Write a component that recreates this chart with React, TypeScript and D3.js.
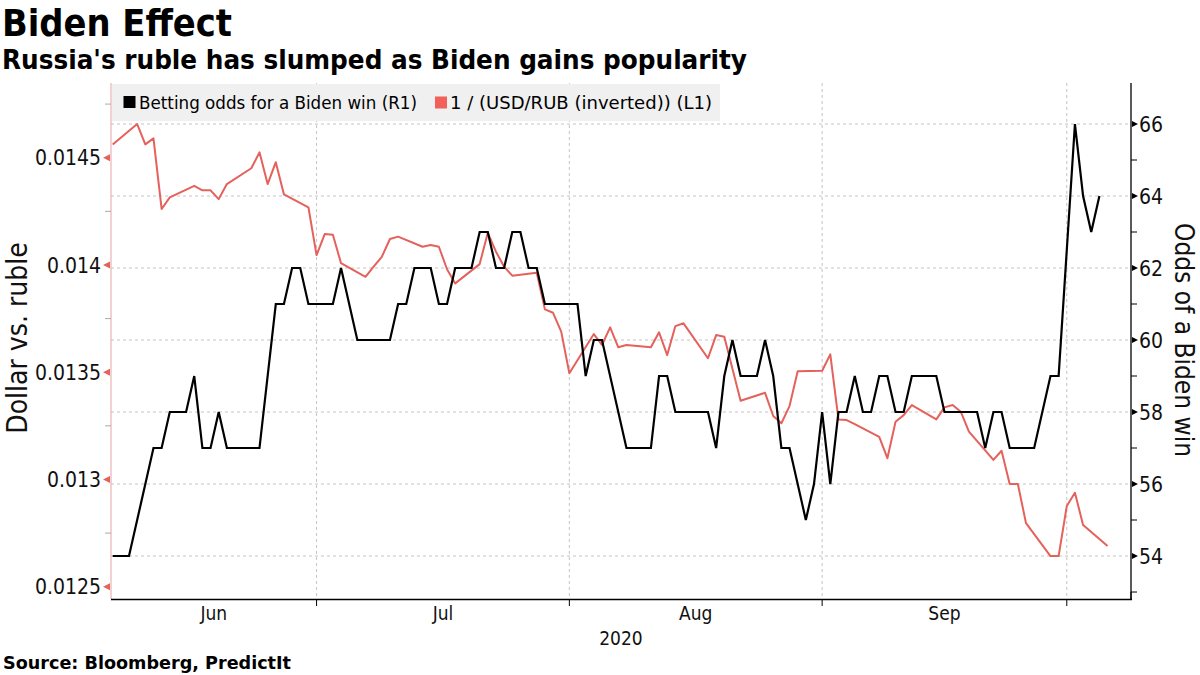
import React from "react";
import * as d3 from "d3";

// ---- Data ----
const bidenOdds: [string, number][] = [
  ["2020-06-05", 54], ["2020-06-07", 54], ["2020-06-10", 57], ["2020-06-11", 57],
  ["2020-06-12", 58], ["2020-06-14", 58], ["2020-06-15", 59], ["2020-06-16", 57],
  ["2020-06-17", 57], ["2020-06-18", 58], ["2020-06-19", 57], ["2020-06-23", 57],
  ["2020-06-25", 61], ["2020-06-26", 61], ["2020-06-27", 62], ["2020-06-28", 62],
  ["2020-06-29", 61], ["2020-07-02", 61], ["2020-07-03", 62], ["2020-07-05", 60],
  ["2020-07-09", 60], ["2020-07-10", 61], ["2020-07-11", 61], ["2020-07-12", 62],
  ["2020-07-14", 62], ["2020-07-15", 61], ["2020-07-16", 61], ["2020-07-17", 62],
  ["2020-07-19", 62], ["2020-07-20", 63], ["2020-07-21", 63], ["2020-07-22", 62],
  ["2020-07-23", 62], ["2020-07-24", 63], ["2020-07-25", 63], ["2020-07-26", 62],
  ["2020-07-27", 62], ["2020-07-28", 61], ["2020-08-01", 61], ["2020-08-02", 59],
  ["2020-08-03", 60], ["2020-08-04", 60], ["2020-08-07", 57], ["2020-08-10", 57],
  ["2020-08-11", 59], ["2020-08-12", 59], ["2020-08-13", 58], ["2020-08-17", 58],
  ["2020-08-18", 57], ["2020-08-19", 59], ["2020-08-20", 60], ["2020-08-21", 59],
  ["2020-08-23", 59], ["2020-08-24", 60], ["2020-08-25", 59], ["2020-08-26", 57],
  ["2020-08-27", 57], ["2020-08-29", 55], ["2020-08-30", 56], ["2020-08-31", 58],
  ["2020-09-01", 56], ["2020-09-02", 58], ["2020-09-03", 58], ["2020-09-04", 59],
  ["2020-09-05", 58], ["2020-09-06", 58], ["2020-09-07", 59], ["2020-09-08", 59],
  ["2020-09-09", 58], ["2020-09-10", 58], ["2020-09-11", 59], ["2020-09-14", 59],
  ["2020-09-15", 58], ["2020-09-19", 58], ["2020-09-20", 57], ["2020-09-21", 58],
  ["2020-09-22", 58], ["2020-09-23", 57], ["2020-09-26", 57], ["2020-09-28", 59],
  ["2020-09-29", 59], ["2020-09-30", 62.5], ["2020-10-01", 66], ["2020-10-02", 64],
  ["2020-10-03", 63], ["2020-10-04", 64],
];

const rubleInverted: [string, number][] = [
  ["2020-06-05", 0.014562], ["2020-06-08", 0.014657], ["2020-06-09", 0.014562],
  ["2020-06-10", 0.01459], ["2020-06-11", 0.014261], ["2020-06-12", 0.014315],
  ["2020-06-15", 0.014369], ["2020-06-16", 0.014348], ["2020-06-17", 0.014348],
  ["2020-06-18", 0.014307], ["2020-06-19", 0.014377], ["2020-06-22", 0.014451],
  ["2020-06-23", 0.014525], ["2020-06-24", 0.014377], ["2020-06-25", 0.014479],
  ["2020-06-26", 0.014329], ["2020-06-29", 0.014269], ["2020-06-30", 0.014046],
  ["2020-07-01", 0.014144], ["2020-07-02", 0.014141], ["2020-07-03", 0.014008],
  ["2020-07-06", 0.013945], ["2020-07-07", 0.013992], ["2020-07-08", 0.014038],
  ["2020-07-09", 0.014121], ["2020-07-10", 0.014132], ["2020-07-13", 0.014085],
  ["2020-07-14", 0.014093], ["2020-07-15", 0.014085], ["2020-07-16", 0.01398],
  ["2020-07-17", 0.013914], ["2020-07-20", 0.014004], ["2020-07-21", 0.01415],
  ["2020-07-22", 0.014062], ["2020-07-23", 0.013992], ["2020-07-24", 0.01395],
  ["2020-07-27", 0.013964], ["2020-07-28", 0.013793], ["2020-07-29", 0.013777],
  ["2020-07-30", 0.013689], ["2020-07-31", 0.013495], ["2020-08-03", 0.013678],
  ["2020-08-04", 0.013627], ["2020-08-05", 0.013709], ["2020-08-06", 0.013616],
  ["2020-08-07", 0.013627], ["2020-08-10", 0.013616], ["2020-08-11", 0.013686],
  ["2020-08-12", 0.01358], ["2020-08-13", 0.013715], ["2020-08-14", 0.013728],
  ["2020-08-17", 0.013565], ["2020-08-18", 0.013673], ["2020-08-19", 0.013665],
  ["2020-08-20", 0.013516], ["2020-08-21", 0.013367], ["2020-08-24", 0.013404],
  ["2020-08-25", 0.013296], ["2020-08-26", 0.013262], ["2020-08-27", 0.013342],
  ["2020-08-28", 0.013504], ["2020-08-31", 0.013507], ["2020-09-01", 0.013583],
  ["2020-09-02", 0.01328], ["2020-09-03", 0.013277], ["2020-09-04", 0.013258],
  ["2020-09-07", 0.013199], ["2020-09-08", 0.013099], ["2020-09-09", 0.013269],
  ["2020-09-10", 0.0133], ["2020-09-11", 0.013347], ["2020-09-14", 0.01328],
  ["2020-09-15", 0.013336], ["2020-09-16", 0.013347], ["2020-09-17", 0.013316],
  ["2020-09-18", 0.013223], ["2020-09-21", 0.013091], ["2020-09-22", 0.013134],
  ["2020-09-23", 0.012979], ["2020-09-24", 0.012979], ["2020-09-25", 0.012796],
  ["2020-09-28", 0.012643], ["2020-09-29", 0.012643], ["2020-09-30", 0.012876],
  ["2020-10-01", 0.012938], ["2020-10-02", 0.012788], ["2020-10-05", 0.01269],
];

const leftTicks = [0.0125, 0.013, 0.0135, 0.014, 0.0145];
const leftMinorTicks = [0.01275, 0.01325, 0.01375, 0.01425, 0.01475];
const rightTicks = [54, 56, 58, 60, 62, 64, 66];
const rightMinorTicks = [53, 55, 57, 59, 61, 63, 65];
const monthEnds = ["2020-06-30", "2020-07-31", "2020-08-31", "2020-09-30"];
const monthLabels = ["Jun", "Jul", "Aug", "Sep"];

const TITLE = "Biden Effect";
const SUBTITLE = "Russia's ruble has slumped as Biden gains popularity";
const SOURCE = "Source: Bloomberg, PredictIt";
const LEGEND = ["Betting odds for a Biden win (R1)", "1 / (USD/RUB (inverted)) (L1)"];

// ---- Layout ----
const W = 1200, H = 675;
const L = 111, R = 1131, T = 83, B = 599;
const FONT = "'DejaVu Sans Condensed', 'DejaVu Sans', sans-serif";
const RED = "#e4615c";
const RED_SQ = "#f2605a";

const parse = d3.timeParse("%Y-%m-%d");

export default function App() {
  const x = d3.scaleTime()
    .domain([new Date(2020, 5, 4, 19), new Date(2020, 9, 7, 21)])
    .range([L, R]);
  const yL = d3.scaleLinear().domain([0.0124427, 0.0148483]).range([B, T]);
  const yR = d3.scaleLinear().domain([52.806, 67.139]).range([B, T]);

  const oddsData = bidenOdds.map(([d, v]) => ({ d: parse(d) as Date, v }));
  const rubData = rubleInverted.map(([d, v]) => ({ d: parse(d) as Date, v }));

  const oddsLine = d3.line<{ d: Date; v: number }>().x(p => x(p.d)).y(p => yR(p.v));
  const rubLine = d3.line<{ d: Date; v: number }>().x(p => x(p.d)).y(p => yL(p.v));

  const bounds = monthEnds.map(s => x(parse(s) as Date));
  const edges = [L, ...bounds];

  return (
    <svg width={W} height={H} style={{ position: "absolute", left: 0, top: 0, background: "#fff" }}
      fontFamily={FONT}>
      <rect x={0} y={0} width={W} height={H} fill="#fff" />
      {/* titles */}
      <text x={2} y={36} fontSize={38} fontWeight="bold" fill="#000" textLength={230} lengthAdjust="spacingAndGlyphs">{TITLE}</text>
      <text x={2} y={69} fontSize={26} fontWeight="bold" fill="#000" textLength={745} lengthAdjust="spacingAndGlyphs">{SUBTITLE}</text>

      {/* horizontal gridlines */}
      {rightTicks.map(t => (
        <line key={"hg" + t} x1={L} x2={R} y1={yR(t)} y2={yR(t)} stroke="#c4c4c4"
          strokeWidth={1} strokeDasharray="3,3" />
      ))}
      {/* vertical gridlines */}
      {bounds.map((bx, i) => (
        <line key={"vg" + i} x1={bx} x2={bx} y1={T} y2={B} stroke="#c4c4c4"
          strokeWidth={1} strokeDasharray="3,3" />
      ))}

      {/* legend */}
      <rect x={112} y={84} width={608} height={37} fill="#f0f0f0" />
      <rect x={123.5} y={96} width={12} height={12} fill="#000" />
      <text x={139} y={109} fontSize={18} fill="#000" textLength={278} lengthAdjust="spacingAndGlyphs">{LEGEND[0]}</text>
      <rect x={435} y={96.5} width={12} height={12} fill={RED_SQ} />
      <text x={450} y={109} fontSize={18} fill="#000" textLength={262} lengthAdjust="spacingAndGlyphs">{LEGEND[1]}</text>

      {/* lines */}
      <path d={rubLine(rubData) || ""} fill="none" stroke={RED} strokeWidth={2} strokeLinejoin="round" />
      <path d={oddsLine(oddsData) || ""} fill="none" stroke="#000" strokeWidth={2.2} strokeLinejoin="miter" />

      {/* left axis */}
      <line x1={L} x2={L} y1={T} y2={B} stroke="#eab3b1" strokeWidth={1.2} />
      {leftMinorTicks.map(t => (
        <line key={"lm" + t} x1={L - 6} x2={L} y1={yL(t)} y2={yL(t)} stroke="#aaa" strokeWidth={1} />
      ))}
      {leftTicks.map(t => (
        <g key={"lt" + t}>
          <path d={`M${L - 1},${yL(t) - 3.5} L${L - 8},${yL(t)} L${L - 1},${yL(t) + 3.5} Z`} fill={RED} />
          <text x={L - 10} y={yL(t)} dy="0.36em" textAnchor="end" fontSize={21} fill="#111">{String(t)}</text>
        </g>
      ))}
      <text transform={`translate(27,338) rotate(-90)`} textAnchor="middle" fontSize={28} fill="#111">
        Dollar vs. ruble
      </text>

      {/* right axis */}
      <line x1={R} x2={R} y1={T} y2={B} stroke="#000" strokeWidth={1.3} />
      {rightMinorTicks.map(t => (
        <line key={"rm" + t} x1={R} x2={R + 6} y1={yR(t)} y2={yR(t)} stroke="#000" strokeWidth={1} />
      ))}
      {rightTicks.map(t => (
        <g key={"rt" + t}>
          <path d={`M${R + 1},${yR(t) - 3} L${R + 7},${yR(t)} L${R + 1},${yR(t) + 3} Z`} fill="#000" />
          <text x={R + 8} y={yR(t)} dy="0.36em" textAnchor="start" fontSize={21} fill="#111">{String(t)}</text>
        </g>
      ))}
      <text transform={`translate(1175,340) rotate(90)`} textAnchor="middle" fontSize={26} fill="#111">
        Odds of a Biden win
      </text>

      {/* bottom axis */}
      <line x1={L} x2={R + 1} y1={B + 0.5} y2={B + 0.5} stroke="#000" strokeWidth={1.3} />
      {bounds.map((bx, i) => (
        <line key={"bt" + i} x1={bx} x2={bx} y1={B} y2={B + 7} stroke="#000" strokeWidth={1} />
      ))}
      <line x1={R} x2={R} y1={B - 7} y2={B} stroke="#000" strokeWidth={1} />
      {monthLabels.map((m, i) => (
        <text key={m} x={(edges[i] + edges[i + 1]) / 2} y={620} textAnchor="middle" fontSize={19} fill="#111">{m}</text>
      ))}
      <text x={(L + R) / 2} y={645} textAnchor="middle" fontSize={19} fill="#111">2020</text>

      {/* source */}
      <text x={3} y={669} fontSize={17.5} fontWeight="bold" fill="#000" textLength={288} lengthAdjust="spacingAndGlyphs">{SOURCE}</text>
    </svg>
  );
}
